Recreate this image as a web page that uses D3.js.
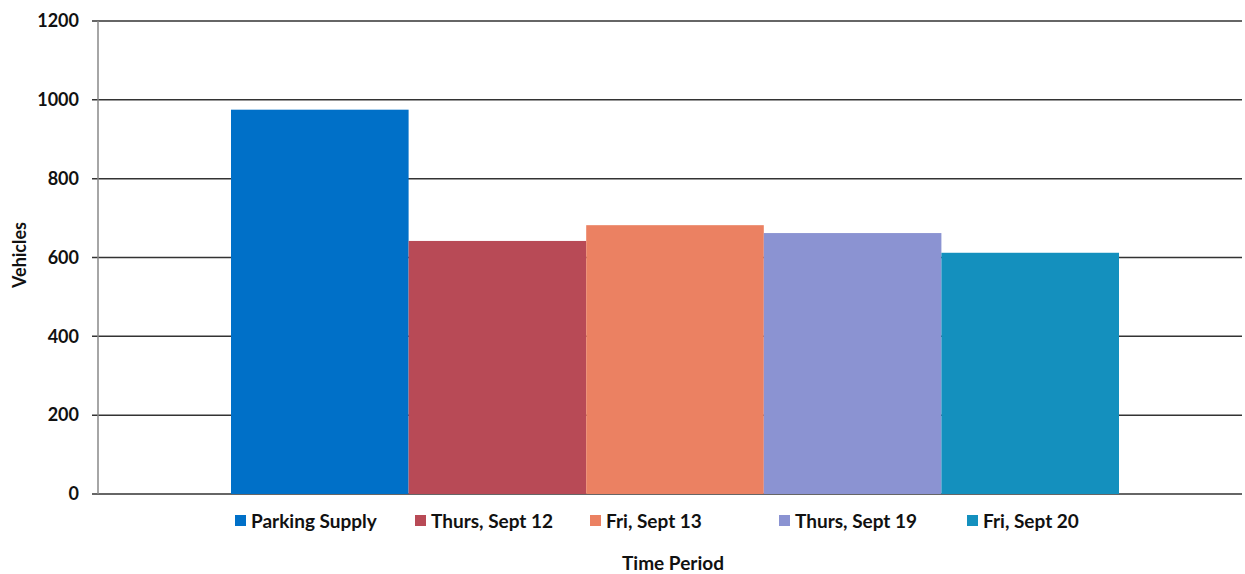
<!DOCTYPE html>
<html><head><meta charset="utf-8">
<script src="https://cdn.jsdelivr.net/npm/d3@7"></script>
<style>body{margin:0;background:#fff}svg{display:block}text{font-family:Lato,"Open Sans",sans-serif;font-weight:bold;fill:#111}</style>
</head><body><svg id="c" width="1245" height="574"></svg>
<script>
const categories = ["Parking Supply","Thurs, Sept 12","Fri, Sept 13","Thurs, Sept 19","Fri, Sept 20"];
const values = [975, 642, 682, 662, 612];
const colors = ["#0070C8","#B84A56","#EB8162","#8B93D2","#1490BE"];
const yTicks = [0,200,400,600,800,1000,1200];

const svg = d3.select("#c");
const m = {l:98, r:1242, t:21, b:494};
const y = d3.scaleLinear().domain([0,1200]).range([m.b, m.t]);
const x = d3.scaleBand().domain(categories).range([231,1119]).padding(0);

// gridlines
svg.append("g").selectAll("line").data(yTicks).join("line")
  .attr("x1", m.l-6).attr("x2", m.r).attr("y1", d=>y(d)).attr("y2", d=>y(d))
  .attr("stroke","#333").attr("stroke-width",1.5);
// y axis line
svg.append("line").attr("x1",m.l).attr("x2",m.l).attr("y1",y(1200)).attr("y2",y(0))
  .attr("stroke","#888").attr("stroke-width",1.5);
// tick labels
svg.append("g").selectAll("text").data(yTicks).join("text")
  .attr("x",79).attr("y",d=>y(d)).attr("dy","0.35em").attr("text-anchor","end")
  .style("font-size","18px").text(d=>d);
// bars
svg.append("g").selectAll("rect").data(categories).join("rect")
  .attr("x",d=>x(d)).attr("width",x.bandwidth()).attr("y",(d,i)=>y(values[i]))
  .attr("height",(d,i)=>y(0)-y(values[i])).attr("fill",(d,i)=>colors[i]);
// axis title
svg.append("text").attr("transform","translate(26,255) rotate(-90)").attr("text-anchor","middle")
  .style("font-size","18px").text("Vehicles");
svg.append("text").attr("x",673).attr("y",570).attr("text-anchor","middle")
  .style("font-size","19px").text("Time Period");
// legend
const legX = [235,415,590,779,967];
const lg = svg.append("g").selectAll("g").data(categories).join("g")
  .attr("transform",(d,i)=>`translate(${legX[i]},521)`);
lg.append("rect").attr("x",0).attr("y",-6).attr("width",11).attr("height",11).attr("fill",(d,i)=>colors[i]);
lg.append("text").attr("x",16).attr("dy","0.35em").style("font-size","19px").text(d=>d);
</script></body></html>
